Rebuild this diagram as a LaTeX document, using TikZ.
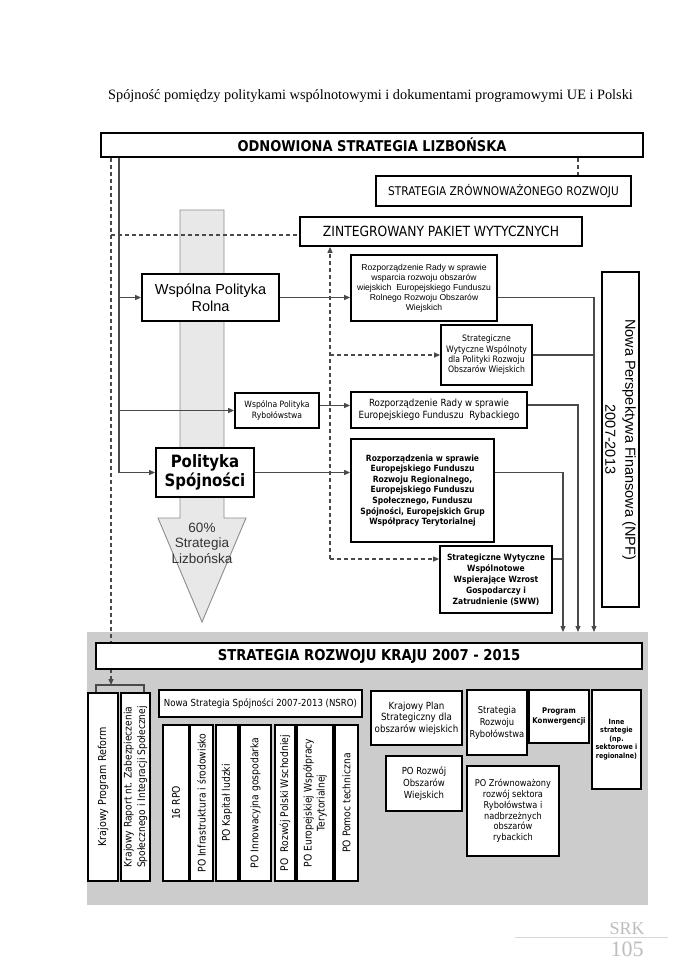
\documentclass[tikz,border=0pt]{standalone}
\usepackage{fontspec}
\setmainfont{Liberation Serif}
\newfontfamily\ar{Liberation Sans}
\newfontfamily\tah[FakeStretch=0.88]{DejaVu Sans}
\usetikzlibrary{arrows.meta}
\pgfdeclarelayer{bgA}\pgfdeclarelayer{bgB}\pgfsetlayers{bgA,bgB,main}
\definecolor{cgray}{HTML}{4A4A4A}
\definecolor{pfill}{HTML}{E8E8E8}
\definecolor{pline}{HTML}{8C8C8C}
\definecolor{area}{HTML}{CCCCCC}
\definecolor{foot}{HTML}{BDBDBD}
\definecolor{txtg}{HTML}{333333}
\newcommand\fs[2]{\fontsize{#1pt}{#2pt}\selectfont}
\begin{document}
\begin{tikzpicture}[x=1pt,y=-1pt,
  box/.style={draw=black,line width=1.8pt,fill=white,inner sep=1pt,align=center,text=black},
  vbox/.style={box,rotate=90,minimum width=156pt,font=\tah\fs{10.5}{13}},
  con/.style={draw=cgray,line width=1.2pt},
  arr/.style={-{Triangle[length=6pt,width=5pt]}},
  dsh/.style={draw=cgray,line width=1.2pt,dash pattern=on 4pt off 3pt}]
\useasboundingbox (0,0) rectangle (673,966);

% title
\node[font=\fs{14.3}{16}] (title) at (370.5,96) {Spójność pomiędzy politykami wspólnotowymi i dokumentami programowymi UE i Polski};

% boxes
\node[box,font=\tah\bfseries\fs{14.8}{17},minimum width=542pt,minimum height=24pt] (lis) at (372,145) {ODNOWIONA STRATEGIA LIZBOŃSKA};
\node[box,font=\tah\fs{12}{14},minimum width=255pt,minimum height=30pt] (zrw) at (503.5,191) {STRATEGIA ZRÓWNOWAŻONEGO ROZWOJU};
\node[box,font=\tah\fs{14}{16},minimum width=282pt,minimum height=29pt] (zpw) at (441,231.5) {ZINTEGROWANY PAKIET WYTYCZNYCH};
\node[box,font=\ar\fs{14.5}{16.5},minimum width=137pt,minimum height=47pt] (wpr) at (210.5,297.5) {Wspólna Polityka\\Rolna};
\node[box,font=\ar\fs{8.6}{10},minimum width=146pt,minimum height=66pt] (efrrow) at (424,288) {Rozporządzenie Rady w sprawie\\wsparcia rozwoju obszarów\\wiejskich\ \ Europejskiego Funduszu\\Rolnego Rozwoju Obszarów\\Wiejskich};
\node[box,font=\tah\fs{8.8}{10.3},minimum width=91pt,minimum height=60pt] (swwo) at (486.5,355) {Strategiczne\\Wytyczne Wspólnoty\\dla Polityki Rozwoju\\Obszarów Wiejskich};
\node[box,font=\tah\fs{8.7}{11},minimum width=84pt,minimum height=35pt] (wpryb) at (277,410.5) {Wspólna Polityka\\Rybołówstwa};
\node[box,font=\tah\fs{9.9}{11.5},minimum width=176pt,minimum height=36pt] (efr) at (439,410) {Rozporządzenie Rady w sprawie\\Europejskiego Funduszu\ \ Rybackiego};
\node[box,font=\tah\bfseries\fs{17}{19.5},minimum width=98pt,minimum height=49pt] (ps) at (205,472.5) {Polityka\\Spójności};
\node[box,font=\tah\bfseries\fs{8.6}{10.6},minimum width=143pt,minimum height=103pt] (efrr) at (422.5,490.5) {Rozporządzenia w sprawie\\Europejskiego Funduszu\\Rozwoju Regionalnego,\\Europejskiego Funduszu\\Społecznego, Funduszu\\Spójności, Europejskich Grup\\Współpracy Terytorialnej};
\node[box,font=\tah\bfseries\fs{8.6}{11},minimum width=112pt,minimum height=67pt] (sww) at (496,579.5) {Strategiczne Wytyczne\\Wspólnotowe\\Wspierające Wzrost\\Gospodarczy i\\Zatrudnienie (SWW)};
\node[box,font=\ar\fs{14.5}{20},rotate=-90,inner sep=0pt,minimum width=335pt,minimum height=37pt] (npf) at (620.5,439.5) {Nowa Perspektywa Finansowa (NPF)\\2007-2013};

\node[font=\ar\fs{13.5}{15.5},text=txtg,align=center] (pct) at (202,543) {60\%\\Strategia\\Lizbońska};

\node[box,font=\tah\bfseries\fs{15}{17},minimum width=546pt,minimum height=26pt] (srk) at (369,656) {STRATEGIA ROZWOJU KRAJU 2007 - 2015};

\node[box,rotate=90,font=\tah\fs{10.9}{13},minimum width=188pt,minimum height=30pt] (kpr) at (103,787) {Krajowy Program Reform};
\node[box,rotate=90,font=\tah\fs{10.4}{13.5},inner sep=0pt,minimum width=188pt,minimum height=29pt] (krs) at (135.5,787) {Krajowy Raport nt. Zabezpieczenia\\Społecznego i Integracji Społecznej};
\node[box,font=\tah\fs{9.75}{11},minimum width=203pt,minimum height=27pt] (nsro) at (260.5,703.5) {Nowa Strategia Spójności 2007-2013 (NSRO)};

\node[vbox,minimum height=26pt] (rpo) at (176,803) {16 RPO};
\node[vbox,minimum height=23pt] (poi) at (201.5,803) {PO Infrastruktura i środowisko};
\node[vbox,minimum height=22pt] (pok) at (227,803) {PO Kapitał ludzki};
\node[vbox,minimum height=31pt] (poig) at (255.5,803) {PO Innowacyjna gospodarka};
\node[vbox,minimum height=20pt] (porpw) at (285,803) {PO\ \ Rozwój Polski Wschodniej};
\node[vbox,minimum height=36pt,inner sep=0pt] (poewt) at (315,803) {PO Europejskiej Współpracy\\Terytorialnej};
\node[vbox,minimum height=23pt] (popt) at (346.5,803) {PO Pomoc techniczna};

\node[box,font=\tah\fs{9.9}{11.5},minimum width=91pt,minimum height=54pt] (kps) at (416.5,718) {Krajowy Plan\\Strategiczny dla\\obszarów wiejskich};
\node[box,font=\tah\fs{9.5}{12},minimum width=60pt,minimum height=65pt] (srr) at (497,722.5) {Strategia\\Rozwoju\\Rybołówstwa};
\node[box,font=\tah\bfseries\fs{7.9}{10},minimum width=60pt,minimum height=53pt] (pk) at (559,716.5) {Program\\Konwergencji};
\node[box,font=\tah\bfseries\fs{7.2}{8.6},minimum width=49pt,minimum height=99pt] (inne) at (616.5,739.5) {Inne\\strategie\\(np.\\sektorowe i\\regionalne)};
\node[box,font=\tah\fs{9.7}{11.7},minimum width=76pt,minimum height=55pt] (porow) at (424,783.5) {PO Rozwój\\Obszarów\\Wiejskich};
\node[box,font=\tah\fs{9.35}{10.8},minimum width=92pt,minimum height=90pt] (pozr) at (513,811) {PO Zrównoważony\\rozwój sektora\\Rybołówstwa i\\nadbrzeżnych\\obszarów\\rybackich};

% footer
\node[font=\fs{18}{20},text=foot] (srkf) at (627,929) {SRK};
\node[font=\fs{22}{24},text=foot] (pg) at (627,949) {105};
\draw[foot!60,line width=0.6pt] (515,937.5) -- (668,937.5);

\begin{pgfonlayer}{bgA}
\fill[white] (0,0) rectangle (673,966);
\fill[area] (87,632) rectangle (648,905);
\filldraw[fill=pfill,draw=pline,line width=0.9pt] (180,210) -- (224,210) -- (224,518) -- (246,518) -- (202,622) -- (158,518) -- (180,518) -- cycle;
\end{pgfonlayer}

\begin{pgfonlayer}{bgB}
\coordinate (trunk) at (119,473);
\coordinate (brk) at (111,685);
\coordinate (dh) at (111,235);
\coordinate (dvb) at (330,559);
\coordinate (c1) at (563,632);
\coordinate (c2) at (578,632);
\coordinate (c3) at (594,632);
\coordinate (j1) at (563,559);
\draw[con,arr] (lis.south -| trunk) |- (ps.west);
\draw[con,arr] (trunk |- wpr.west) -- (wpr.west);
\draw[con,arr] (trunk |- wpryb.west) -- (wpryb.west);
\draw[dsh,arr] (lis.south -| brk) -- (brk);
\draw[dsh] (dh) -- (dh -| zpw.west);
\draw[dsh] (lis.south -| c2) -- (zrw.north -| c2);
\draw[dsh,arr] (dvb) -- (dvb |- zpw.south);
\draw[dsh,arr] (dvb |- swwo.west) -- (swwo.west);
\draw[dsh,arr] (dvb) -- (dvb -| sww.west);
\draw[con,arr] (wpr.east) -- (wpr.east -| efrrow.west);
\draw[con,arr] ([yshift=5pt]wpryb.east) -- ([yshift=5pt]wpryb.east -| efr.west);
\draw[con,arr] (ps.east) -- (ps.east -| efrr.west);
\draw[con,arr] (efrrow.east |- wpr.east) -| (c3);
\draw[con] (swwo.east) -- (swwo.east -| c3);
\draw[con,arr] ([yshift=5pt]efr.east) -| (c2);
\draw[con,arr] (efrr.east |- ps.east) -| (c1);
\draw[con] (sww.east |- j1) -- (j1);
\draw[con] ([xshift=-7pt]kpr.east) |- (brk) -| ([xshift=8.5pt]krs.east);
\end{pgfonlayer}
\end{tikzpicture}
\end{document}
